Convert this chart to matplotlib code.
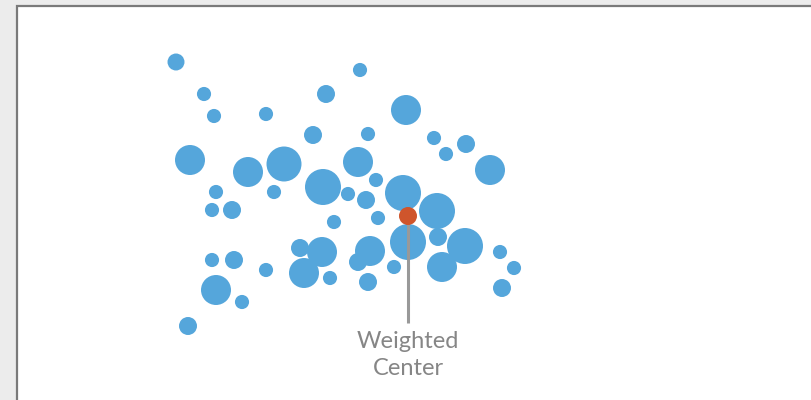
"""Bubble map with a weighted center marker."""
import matplotlib
matplotlib.use("Agg")
import matplotlib.pyplot as plt
from matplotlib.patches import Rectangle

# bubble positions (map units, y grows downward) and weights
xs = [176, 204, 214, 266, 326, 360, 406, 313, 368, 434,
      446, 466, 190, 248, 284, 358, 490, 323, 216, 274,
      348, 376, 403, 366, 212, 232, 378, 437, 334, 438,
      408, 465, 300, 322, 370, 358, 212, 234, 266, 304,
      330, 368, 394, 442, 500, 514, 502, 216, 242, 188]
ys = [62, 94, 116, 114, 94, 70, 110, 135, 134, 138,
      154, 144, 160, 172, 164, 162, 170, 187, 192, 192,
      194, 180, 193, 200, 210, 210, 218, 211, 222, 237,
      242, 246, 248, 252, 251, 262, 260, 260, 270, 273,
      278, 282, 267, 267, 252, 268, 288, 290, 302, 326]
weights = [72, 50, 50, 50, 81, 50, 225, 81, 50, 50,
           50, 81, 225, 225, 306, 225, 225, 324, 50, 50,
           50, 50, 324, 81, 50, 81, 50, 324, 50, 81,
           324, 324, 81, 225, 225, 81, 50, 81, 50, 225,
           50, 81, 50, 225, 50, 50, 81, 225, 50, 81]

center_x, center_y = 408, 216
center_label = "Weighted\nCenter"

BLUE = "#55a6db"
RED = "#cf552c"
GRAY = "#868686"

DPI = 100
fig = plt.figure(figsize=(8.12, 4.0), dpi=DPI)
fig.patch.set_facecolor("#ececec")
ax = fig.add_axes([0, 0, 1, 1])
ax.set_xlim(0, 812)
ax.set_ylim(400, 0)
ax.axis("off")

# white panel with a gray frame
ax.add_patch(Rectangle((17, 6), 820, 420, facecolor="white",
                       edgecolor="#7a7a7a", linewidth=1.6, zorder=0))

# weight ~ radius^2 in px; convert to marker area in pt^2
px2pt = 72.0 / DPI
sizes = [(2 * w ** 0.5 * px2pt) ** 2 for w in weights]
ax.scatter(xs, ys, s=sizes, color=BLUE, edgecolors="none", zorder=2)

# leader line and center dot
ax.plot([center_x, center_x], [center_y, 323], color="#999999",
        linewidth=2.2, solid_capstyle="butt", zorder=3)
ax.scatter([center_x], [center_y], s=(18 * px2pt) ** 2, color=RED,
           edgecolors="none", zorder=4)
ax.text(center_x, 331, center_label, ha="center", va="top",
        fontsize=17, color=GRAY, family=["Lato", "DejaVu Sans"],
        linespacing=1.38)

fig.savefig("out.png", dpi=DPI, facecolor=fig.get_facecolor())
